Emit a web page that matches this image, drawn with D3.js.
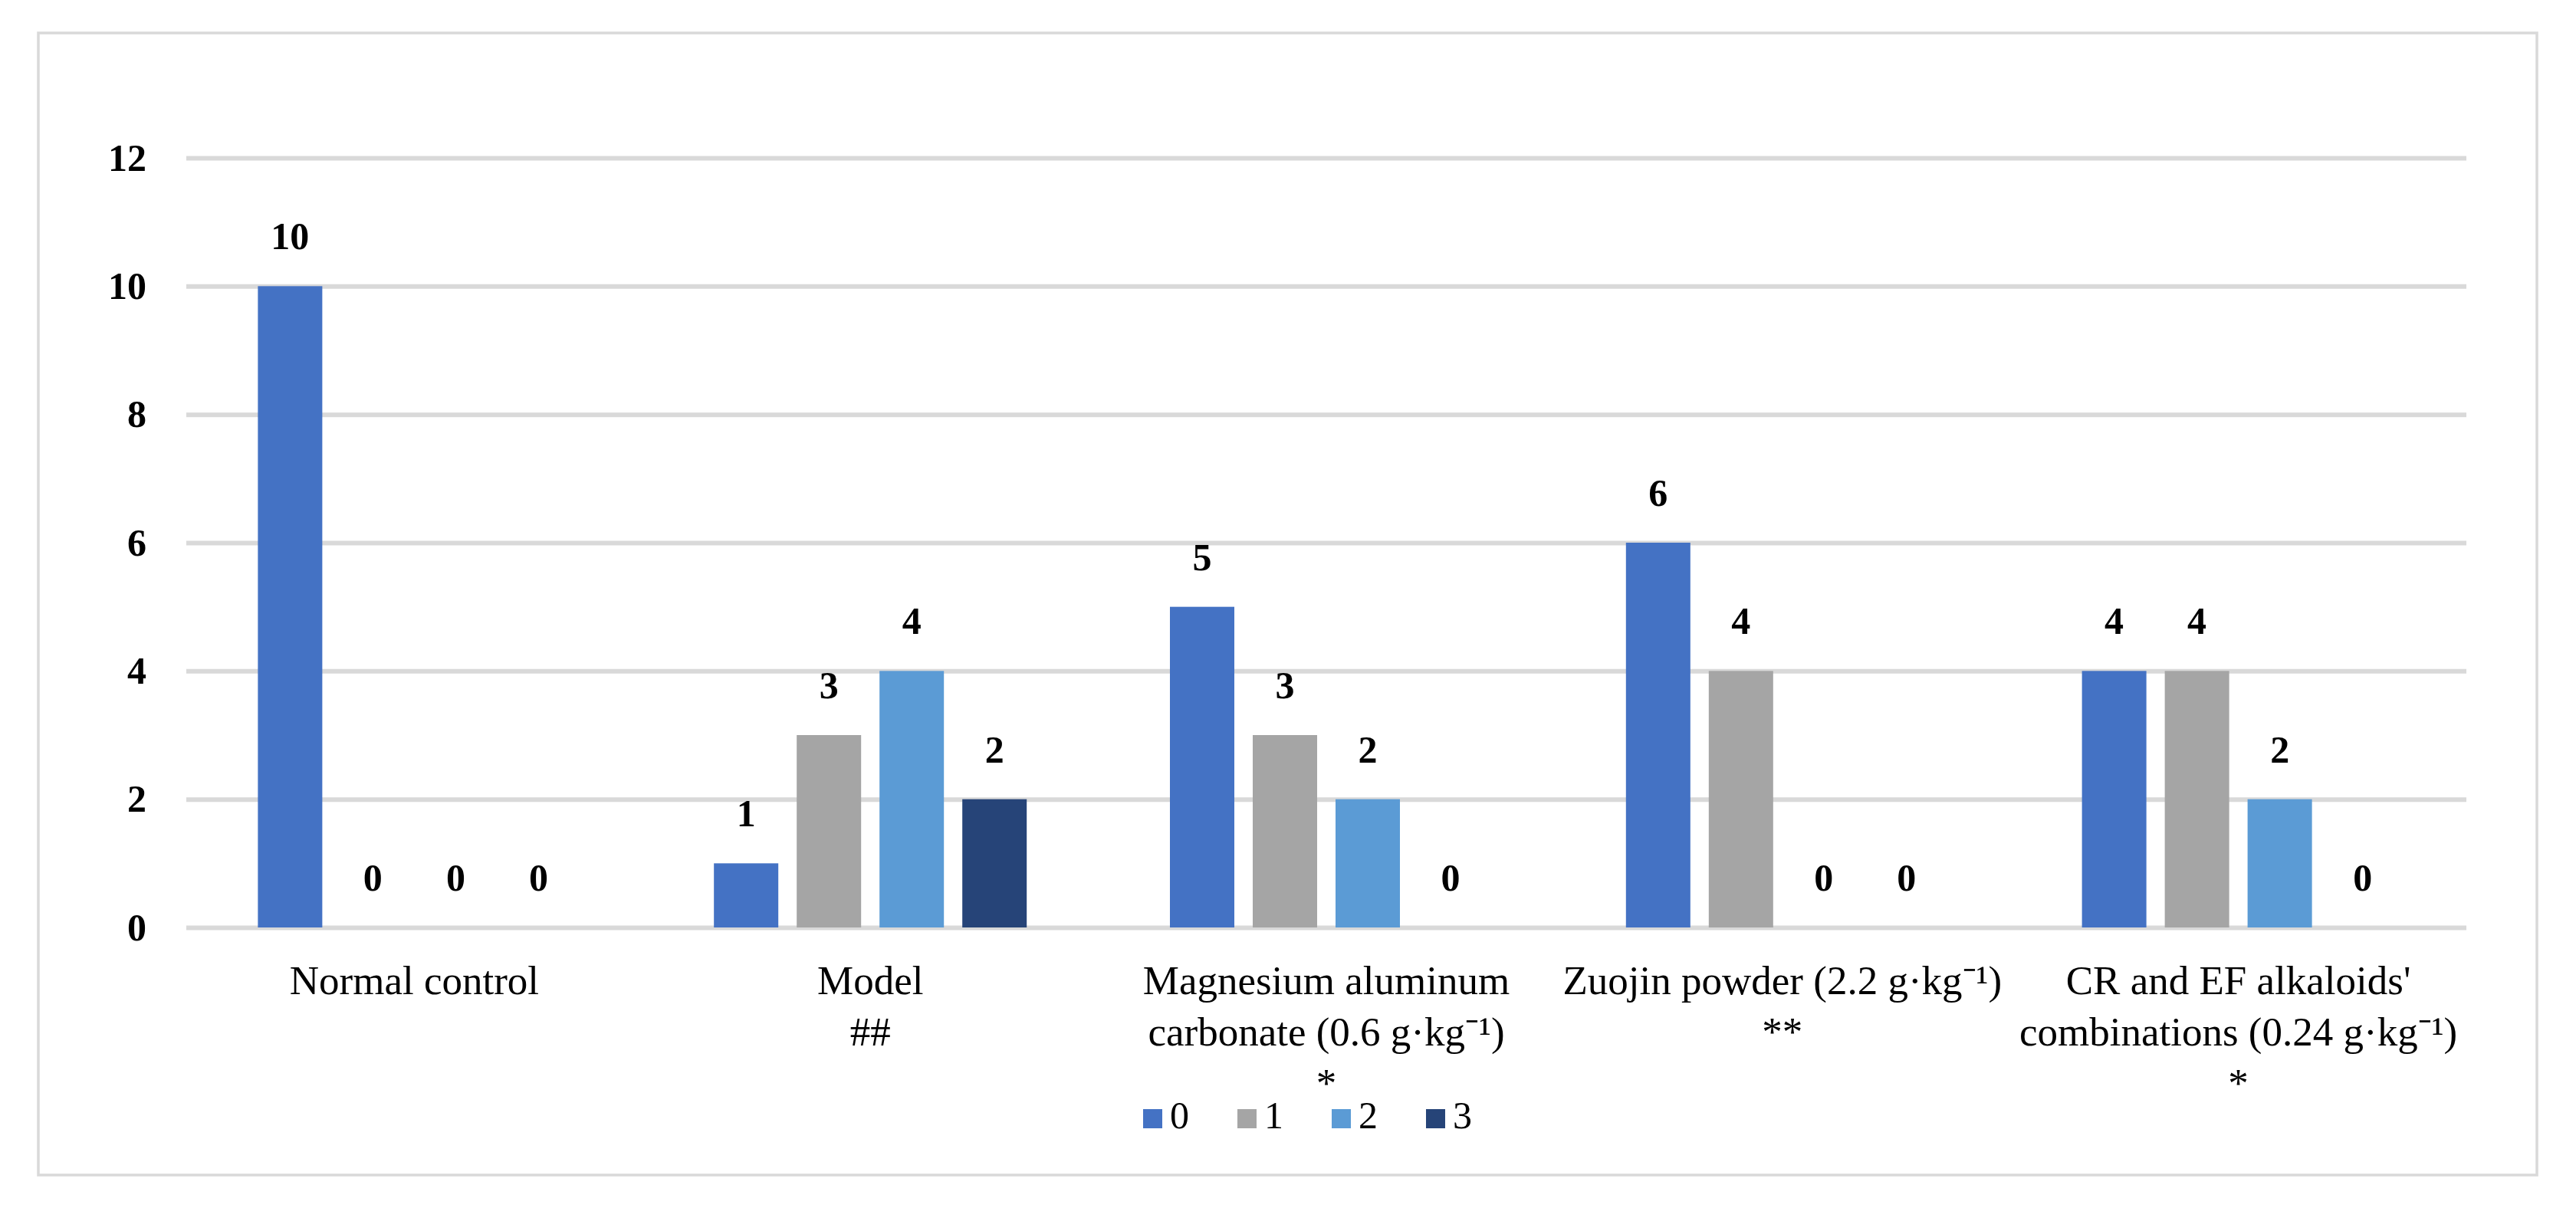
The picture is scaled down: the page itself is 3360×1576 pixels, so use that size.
<!DOCTYPE html>
<html>
<head>
<meta charset="utf-8">
<script src="https://cdn.jsdelivr.net/npm/d3@7"></script>
<style>
  body { margin: 0; background: #fff; }
  text { font-family: "Liberation Serif", "Times New Roman", serif; fill: #000; }
</style>
</head>
<body>
<div id="chart"></div>
<script>
// categories (each label may wrap over several lines)
const categories = ['Normal control', 'Model', 'Magnesium aluminum', 'Zuojin powder', 'CR and EF'];
const categoryLines = [
    ['Normal control'],
    ['Model', '##'],
    ['Magnesium aluminum', 'carbonate (0.6 g\u00b7kg\u207b\u00b9)', '*'],
    ['Zuojin powder (2.2 g\u00b7kg\u207b\u00b9)', '**'],
    ['CR and EF alkaloids\'', 'combinations (0.24 g\u00b7kg\u207b\u00b9)', '*']
];
const seriesNames = ['0', '1', '2', '3'];
const seriesColors = ['#4472C4', '#A5A5A5', '#5B9BD5', '#264478'];
// values per series, in category order
const score0 = [10, 1, 5, 6, 4];
const score1 = [0, 3, 3, 4, 4];
const score2 = [0, 4, 2, 0, 2];
const score3 = [0, 2, 0, 0, 0];
const yTicks = [0, 2, 4, 6, 8, 10, 12];

const series = [score0, score1, score2, score3];

const width = 3360, height = 1576;
const plot = { left: 243, right: 3217, top: 206, bottom: 1210 };

const svg = d3.select('#chart')
    .append('svg')
    .attr('width', width)
    .attr('height', height);

// outer frame
svg.append('rect')
    .attr('x', 50)
    .attr('y', 43)
    .attr('width', 3259)
    .attr('height', 1490)
    .attr('fill', '#fff')
    .attr('stroke', '#d9d9d9')
    .attr('stroke-width', 3.5);

const x0 = d3.scaleBand()
    .domain(categories)
    .range([plot.left, plot.right])
    .paddingInner(0.2737)
    .paddingOuter(0.1368);

const x1 = d3.scaleBand()
    .domain(seriesNames)
    .range([0, x0.bandwidth()])
    .paddingInner(0.2222)
    .paddingOuter(0.1111);

const y = d3.scaleLinear()
    .domain([0, 12])
    .range([plot.bottom, plot.top]);

// y axis with gridlines
const yAxis = svg.append('g')
    .attr('transform', `translate(${plot.left},0)`)
    .call(d3.axisLeft(y)
        .tickValues(yTicks)
        .tickSize(-(plot.right - plot.left))
        .tickPadding(52));

yAxis.select('.domain').remove();
yAxis.selectAll('line')
    .attr('stroke', '#d9d9d9')
    .attr('stroke-width', 6);
yAxis.selectAll('text')
    .attr('font-family', '"Liberation Serif", serif')
    .attr('font-size', 50)
    .attr('font-weight', 'bold')
    .attr('fill', '#000');

// bars
const groups = svg.append('g')
    .selectAll('g')
    .data(series)
    .enter()
    .append('g')
    .attr('fill', (d, i) => seriesColors[i]);

groups.each(function(vals, si) {
    const g = d3.select(this);
    g.selectAll('rect')
        .data(vals)
        .enter()
        .append('rect')
        .attr('x', (d, ci) => x0(categories[ci]) + x1(seriesNames[si]))
        .attr('y', d => y(d))
        .attr('width', x1.bandwidth())
        .attr('height', d => y(0) - y(d));

    g.selectAll('text')
        .data(vals)
        .enter()
        .append('text')
        .attr('x', (d, ci) => x0(categories[ci]) + x1(seriesNames[si]) + x1.bandwidth() / 2)
        .attr('y', d => y(d) - 48)
        .attr('text-anchor', 'middle')
        .attr('font-size', 50)
        .attr('font-weight', 'bold')
        .attr('fill', '#000')
        .text(d => d);
});

// category labels
const catLabels = svg.append('g')
    .selectAll('text')
    .data(categoryLines)
    .enter()
    .append('text')
    .attr('text-anchor', 'middle')
    .attr('font-size', 53)
    .attr('transform', (d, i) => `translate(${x0(categories[i]) + x0.bandwidth() / 2},1297)`);

catLabels.selectAll('tspan')
    .data(d => d)
    .enter()
    .append('tspan')
    .attr('x', 0)
    .attr('y', (d, i) => i * 67)
    .text(d => d);

// legend
const legendX = d3.scalePoint()
    .domain(seriesNames)
    .range([1491, 1860]);

const legend = svg.append('g')
    .selectAll('g')
    .data(seriesNames)
    .enter()
    .append('g')
    .attr('transform', d => `translate(${legendX(d)},1447)`);

legend.append('rect')
    .attr('width', 25)
    .attr('height', 25)
    .attr('fill', (d, i) => seriesColors[i]);

legend.append('text')
    .attr('x', 35)
    .attr('y', 25)
    .attr('font-size', 50)
    .text(d => d);
</script>
</body>
</html>
